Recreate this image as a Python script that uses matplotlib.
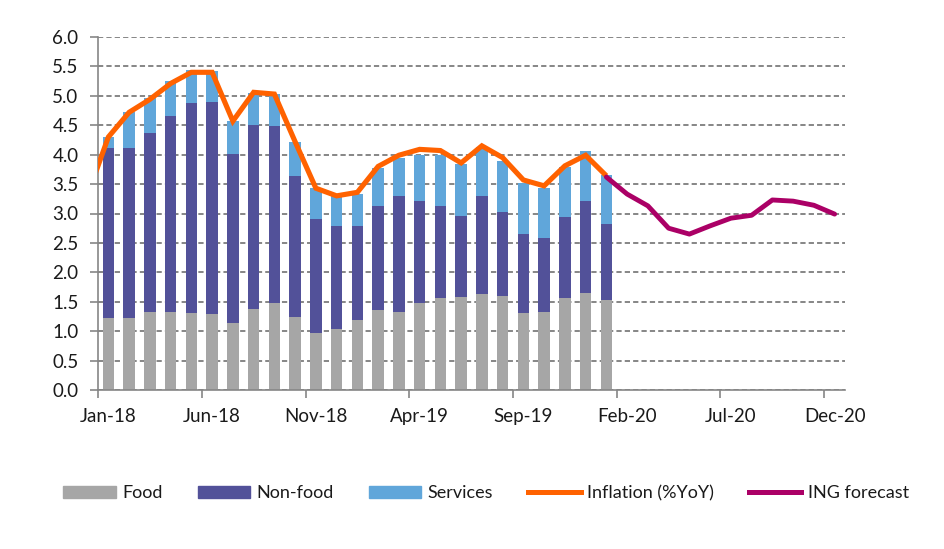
import matplotlib
matplotlib.use("Agg")
import matplotlib.pyplot as plt
from matplotlib.patches import Patch
from matplotlib.lines import Line2D
import numpy as np

plt.rcParams['font.family'] = ['Lato', 'DejaVu Sans']

months = ["Jan-18", "Feb-18", "Mar-18", "Apr-18", "May-18", "Jun-18", "Jul-18", "Aug-18",
          "Sep-18", "Oct-18", "Nov-18", "Dec-18", "Jan-19", "Feb-19", "Mar-19", "Apr-19",
          "May-19", "Jun-19", "Jul-19", "Aug-19", "Sep-19", "Oct-19", "Nov-19", "Dec-19",
          "Jan-20", "Feb-20", "Mar-20", "Apr-20", "May-20", "Jun-20", "Jul-20", "Aug-20",
          "Sep-20", "Oct-20", "Nov-20", "Dec-20"]

# contributions (pp), Jan-18 .. Jan-20
food = [1.23, 1.23, 1.33, 1.33, 1.31, 1.29, 1.14, 1.38, 1.48, 1.24, 0.97, 1.04, 1.19,
        1.36, 1.33, 1.48, 1.56, 1.58, 1.63, 1.60, 1.31, 1.33, 1.56, 1.65, 1.53]
nonfood = [2.88, 2.89, 3.03, 3.32, 3.56, 3.60, 2.87, 3.12, 3.00, 2.40, 1.93, 1.74, 1.59,
           1.77, 1.96, 1.74, 1.56, 1.38, 1.66, 1.43, 1.35, 1.25, 1.38, 1.57, 1.30]
services = [0.19, 0.61, 0.61, 0.60, 0.57, 0.53, 0.56, 0.54, 0.55, 0.57, 0.53, 0.51, 0.55,
            0.64, 0.65, 0.77, 0.87, 0.88, 0.84, 0.86, 0.85, 0.85, 0.85, 0.85, 0.82]

# headline inflation, Dec-17 .. Jan-20
inflation = [3.32, 4.30, 4.72, 4.94, 5.21, 5.40, 5.40, 4.57, 5.06, 5.03, 4.22, 3.43, 3.30,
             3.36, 3.80, 3.99, 4.09, 4.07, 3.86, 4.15, 3.95, 3.57, 3.47, 3.81, 3.99, 3.64]
# ING forecast, Jan-20 .. Dec-20
forecast = [3.62, 3.33, 3.13, 2.75, 2.65, 2.79, 2.92, 2.97, 3.23, 3.21, 3.14, 2.99]

yticks = [0.0, 0.5, 1.0, 1.5, 2.0, 2.5, 3.0, 3.5, 4.0, 4.5, 5.0, 5.5, 6.0]

c_food = "#A6A6A6"
c_nonfood = "#525199"
c_serv = "#60A6DA"
c_infl = "#FF6200"
c_fc = "#AB0066"
c_axis = "#868686"
c_text = "#1a1a1a"

fig = plt.figure(figsize=(9.44, 5.49), dpi=100)
ax = fig.add_axes([98 / 944, 1 - 390 / 549, (845 - 98) / 944, (390 - 37) / 549])

xb = np.arange(len(food))
food_a = np.array(food)
nf_a = np.array(nonfood)
sv_a = np.array(services)
w = 0.55
ax.bar(xb, food_a, width=w, color=c_food, zorder=2)
ax.bar(xb, nf_a, width=w, bottom=food_a, color=c_nonfood, zorder=2)
ax.bar(xb, sv_a, width=w, bottom=food_a + nf_a, color=c_serv, zorder=2)

xi = np.arange(len(inflation)) - 1
ax.plot(xi, inflation, color=c_infl, lw=3.7, zorder=3, solid_joinstyle='miter',
        solid_capstyle='butt')
xf = np.arange(len(forecast)) + len(food) - 1
ax.plot(xf, forecast, color=c_fc, lw=3.5, zorder=4, solid_joinstyle='round',
        solid_capstyle='round')

ax.set_xlim(-0.5, len(months) - 0.5)
ax.set_ylim(0, 6)
ax.set_yticks(yticks)
ax.set_yticklabels([f"{v:.1f}" for v in yticks])
ax.yaxis.grid(True, color=c_axis, lw=1.4, linestyle=(0, (2.7, 1.6)), zorder=0)
ax.set_axisbelow(True)

label_idx = list(range(0, len(months), 5))
ax.set_xticks([i - 0.5 for i in label_idx])
ax.set_xticklabels([])
ax.set_xticks(label_idx, minor=True)
ax.set_xticklabels([months[i] for i in label_idx], minor=True)
ax.tick_params(axis='x', which='major', length=6, width=1.2, color=c_axis)
ax.tick_params(axis='x', which='minor', length=0, pad=13, labelsize=13.5, labelcolor=c_text)
ax.tick_params(axis='y', length=6, width=1.2, color=c_axis, pad=8, labelsize=13.5,
               labelcolor=c_text)

for s in ['top', 'right']:
    ax.spines[s].set_visible(False)
for s in ['left', 'bottom']:
    ax.spines[s].set_color(c_axis)
    ax.spines[s].set_linewidth(1.2)

handles = [Patch(color=c_food), Patch(color=c_nonfood), Patch(color=c_serv),
           Line2D([], [], color=c_infl, lw=3.6), Line2D([], [], color=c_fc, lw=3.6)]
labels = ["Food", "Non-food", "Services", "Inflation (%YoY)", "ING forecast"]
fig.legend(handles, labels, loc='center', bbox_to_anchor=(0.515, 1 - 493 / 549), ncol=5,
           frameon=False, fontsize=13, handlelength=2.9, handleheight=0.62,
           handletextpad=0.35, columnspacing=1.95, labelcolor=c_text)

fig.savefig("out.png", dpi=100)
